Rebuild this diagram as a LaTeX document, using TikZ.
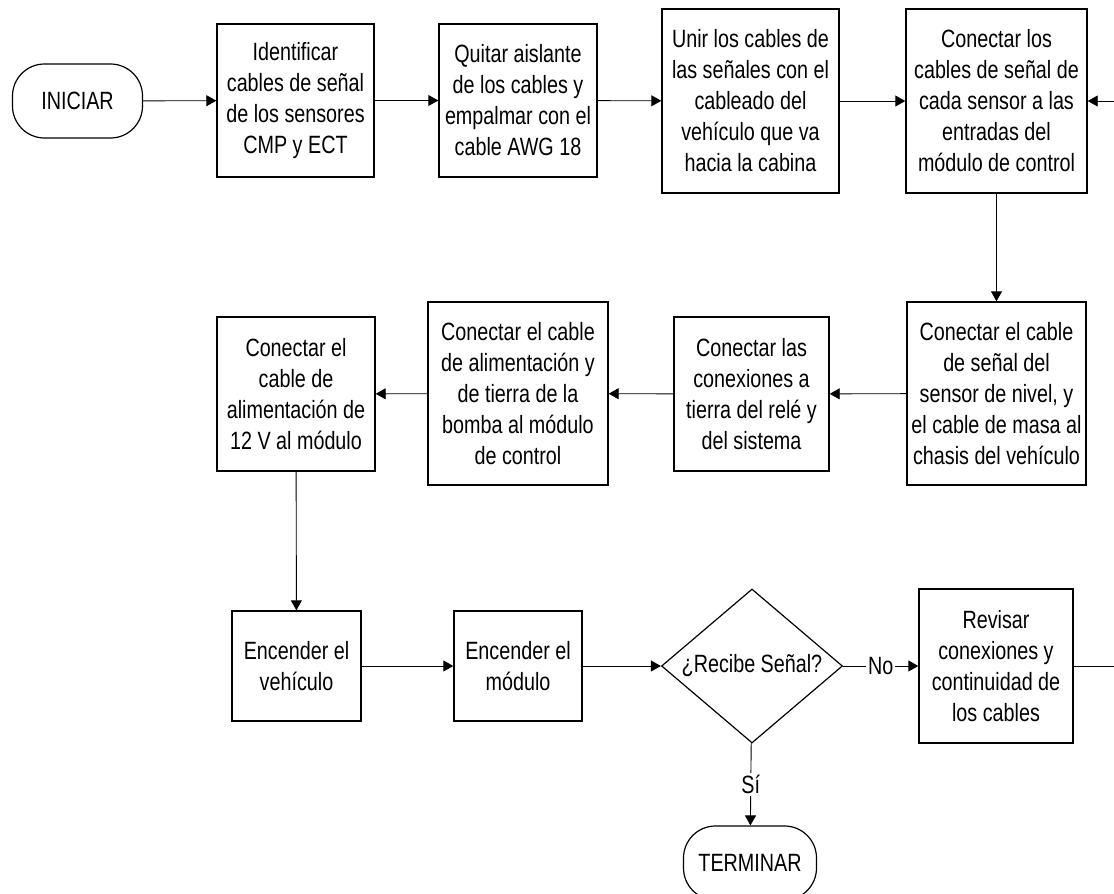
\documentclass[tikz,border=0pt]{standalone}
\usepackage{fontspec}
\setmainfont{Liberation Sans}[FakeStretch=0.79]
\usetikzlibrary{shapes.geometric,arrows.meta}
\begin{document}
\begin{tikzpicture}[x=1pt,y=-1pt,
  every node/.style={font=\fontsize{25}{31}\selectfont, align=center, inner sep=0pt},
  stepbox/.style={draw, line width=1.4pt, rectangle},
  terminal/.style={draw, line width=1.2pt, rectangle, rounded corners=32pt,
    minimum width=130pt, minimum height=74pt},
  decision/.style={draw, line width=1.2pt, diamond, minimum width=181pt, minimum height=154pt},
  flow/.style={line width=0.9pt, -{Triangle[length=10pt,width=11pt]}},
  plain/.style={line width=0.9pt},
  lbl/.style={fill=white, inner sep=2pt}]
\useasboundingbox (0,0) rectangle (1114,894);

% first row
\node[terminal] (ini) at (77.5,101) {INICIAR};
\node[stepbox, minimum width=157pt, minimum height=153pt] (b1) at (295.5,100.5)
  {Identificar\\cables de señal\\de los sensores\\CMP y ECT};
\node[stepbox, minimum width=158pt, minimum height=153pt] (b2) at (518,100.5)
  {Quitar aislante\\de los cables y\\empalmar con el\\cable AWG 18};
\node[stepbox, minimum width=177pt, minimum height=184pt] (b3) at (750.5,101)
  {Unir los cables de\\las señales con el\\cableado del\\vehículo que va\\hacia la cabina};
\node[stepbox, minimum width=181pt, minimum height=184pt] (b4) at (996.5,101)
  {Conectar los\\cables de señal de\\cada sensor a las\\entradas del\\módulo de control};

% second row
\node[stepbox, minimum width=179pt, minimum height=183pt] (b5) at (996.5,393.5)
  {Conectar el cable\\de señal del\\sensor de nivel, y\\el cable de masa al\\chasis del vehículo};
\node[stepbox, minimum width=155pt, minimum height=154pt] (b6) at (751.5,394)
  {Conectar las\\conexiones a\\tierra del relé y\\del sistema};
\node[stepbox, minimum width=180pt, minimum height=183pt] (b7) at (518,393.5)
  {Conectar el cable\\de alimentación y\\de tierra de la\\bomba al módulo\\de control};
\node[stepbox, minimum width=158pt, minimum height=154pt] (b8) at (296,394)
  {Conectar el\\cable de\\alimentación de\\12 V al módulo};

% third row
\node[stepbox, minimum width=129pt, minimum height=110pt] (b9) at (296.5,666)
  {Encender el\\vehículo};
\node[stepbox, minimum width=128pt, minimum height=110pt] (b10) at (518,666)
  {Encender el\\módulo};
\node[decision] (dec) at (752,666) {\makebox[0pt]{¿Recibe Señal?}};
\node[stepbox, minimum width=154pt, minimum height=154pt] (b11) at (996,666)
  {Revisar\\conexiones y\\continuidad de\\los cables};
\node[terminal, minimum width=133pt] (fin) at (750,863) {TERMINAR};

% return path from the check box back to the first row
\coordinate (r1) at (1126,666);
\coordinate (r2) at (1126,101);

% connectors
\draw[flow] (ini) -- (b1);
\draw[flow] (b1) -- (b2);
\draw[flow] (b2) -- (b3);
\draw[flow] (b3) -- (b4);
\draw[flow] (b4) -- (b5);
\draw[flow] (b5) -- (b6);
\draw[flow] (b6) -- (b7);
\draw[flow] (b7) -- (b8);
\draw[flow] (b8) -- (b9);
\draw[flow] (b9) -- (b10);
\draw[flow] (b10) -- (dec);
\draw[flow] (dec) -- node[lbl] {No} (b11);
\draw[flow] (dec) -- node[lbl] {Sí} (fin);
\draw[plain] (b11.east) -- (r1) -- (r2);
\draw[flow] (r2) -- (b4.east);
\end{tikzpicture}
\end{document}
